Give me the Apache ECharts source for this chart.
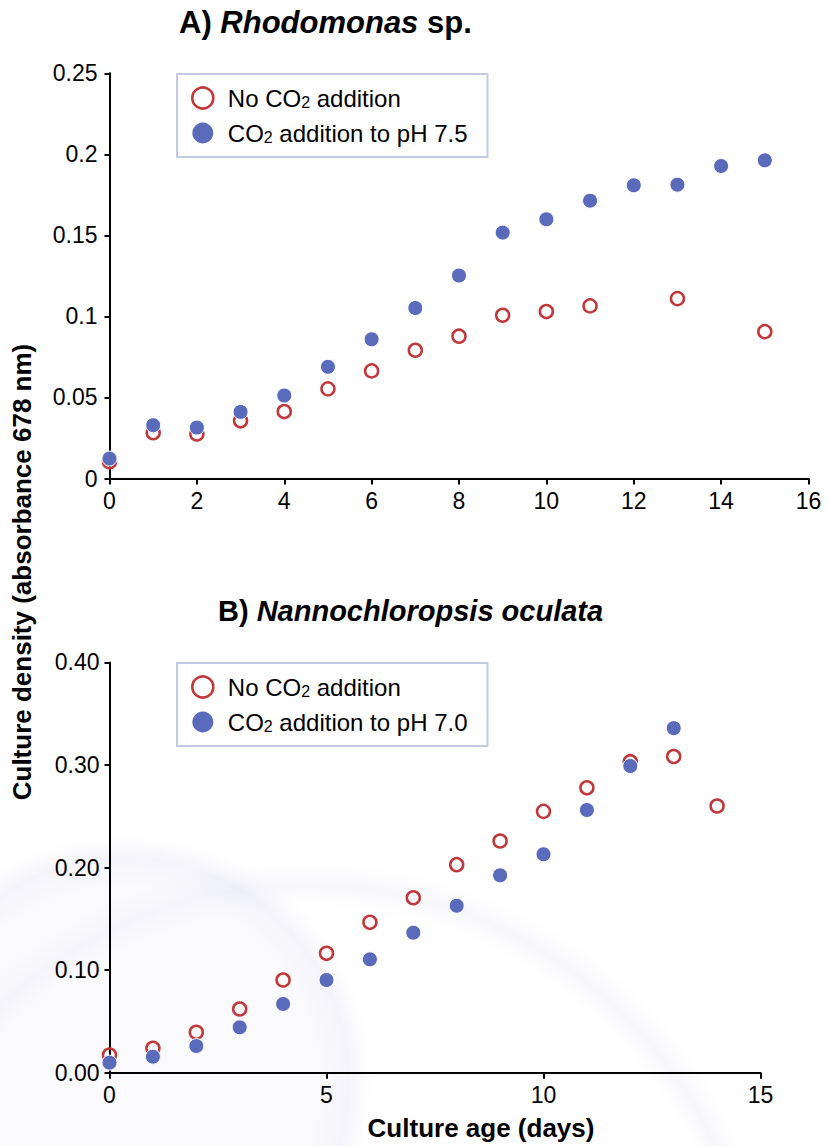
<!DOCTYPE html>
<html>
<head>
<meta charset="utf-8">
<script src="https://cdn.jsdelivr.net/npm/echarts@6/dist/echarts.min.js"></script>
<style>
html,body{margin:0;padding:0;background:#fff;}
#chart{width:827px;height:1146px;}
</style>
</head>
<body>
<div id="chart"></div>
<script>
// ---- Data ----
// Panel A: Rhodomonas sp.
const daysNoCO2A = [0, 1, 2, 3, 4, 5, 6, 7, 8, 9, 10, 11, 13, 15];
const noCO2A     = [0.0103, 0.0282, 0.0275, 0.0356, 0.0413, 0.0553, 0.0664, 0.0791, 0.0878, 0.1007, 0.1030, 0.1065, 0.1110, 0.0906];
const daysCO2A   = [0, 1, 2, 3, 4, 5, 6, 7, 8, 9, 10, 11, 12, 13, 14, 15];
const co2A       = [0.0123, 0.0329, 0.0314, 0.0411, 0.0512, 0.0689, 0.0859, 0.1052, 0.1252, 0.1517, 0.1599, 0.1714, 0.1809, 0.1813, 0.1928, 0.1963];

// Panel B: Nannochloropsis oculata
const daysNoCO2B = [0, 1, 2, 3, 4, 5, 6, 7, 8, 9, 10, 11, 12, 13, 14];
const noCO2B     = [0.0172, 0.0238, 0.0394, 0.0621, 0.0904, 0.1164, 0.1466, 0.1706, 0.2028, 0.2259, 0.2548, 0.2778, 0.3032, 0.3083, 0.2600];
const daysCO2B   = [0, 1, 2, 3, 4, 5, 6, 7, 8, 9, 10, 11, 12, 13];
const co2B       = [0.0098, 0.0156, 0.0260, 0.0442, 0.0670, 0.0904, 0.1105, 0.1365, 0.1628, 0.1924, 0.2129, 0.2561, 0.2990, 0.3359];

// Tick labels
const yTickLabelsA = ['0', '0.05', '0.1', '0.15', '0.2', '0.25'];
const yTickLabelsB = ['0.00', '0.10', '0.20', '0.30', '0.40'];

// Text
const titleA = ['A) ', 'Rhodomonas', ' sp.'];
const titleB = ['B) ', 'Nannochloropsis oculata', ''];
const seriesNames = {
  noA: 'A: No CO2 addition',
  co2A: 'A: CO2 addition to pH 7.5',
  noB: 'B: No CO2 addition',
  co2B: 'B: CO2 addition to pH 7.0'
};
const yAxisTitle = 'Culture density (absorbance 678 nm)';
const xAxisTitle = 'Culture age (days)';

// ---- Styles ----
const FONT = "'Liberation Sans', Arial, Helvetica, sans-serif";
const RED = '#c0383a';
const BLUE = '#5a6bbb';

function pairs(xs, ys) { return xs.map((x, i) => [x, ys[i]]); }

const chart = echarts.init(document.getElementById('chart'), null, {renderer: 'svg'});

function axisCommon() {
  return {
    axisLine: {show: true, onZero: false, lineStyle: {color: '#000', width: 2}},
    axisTick: {show: true, inside: false, length: 6, lineStyle: {color: '#000', width: 2}},
    splitLine: {show: false},
    axisLabel: {color: '#000', fontSize: 23, fontFamily: FONT, margin: 11}
  };
}

function legendCfg(top, names) {
  return {
    show: true,
    orient: 'vertical',
    left: 177,
    top: top,
    padding: [12, 20, 12, 14],
    itemWidth: 40,
    itemHeight: 21,
    itemGap: 11,
    borderColor: '#c3c9e2',
    borderWidth: 2,
    backgroundColor: '#ffffff',
    selectedMode: false,
    data: [
      {name: names[0], icon: 'circle', itemStyle: {color: 'rgba(255,255,255,0)', borderColor: RED, borderWidth: 2.6, opacity: 1}},
      {name: names[1], icon: 'circle', itemStyle: {color: BLUE, borderWidth: 0, opacity: 1}}
    ],
    formatter: function (name) {
      const t = name.replace(/^[AB]: /, '');
      return t.replace('CO2', 'CO{s|2}');
    },
    textStyle: {
      color: '#000', fontSize: 24, fontFamily: FONT, lineHeight: 24,
      rich: {s: {fontSize: 16, fontFamily: FONT, color: '#000', lineHeight: 8, verticalAlign: 'bottom'}}
    }
  };
}

function titleCfg(parts, left, top, size) {
  return {
    left: left, top: top, padding: 0,
    text: '{b|' + parts[0] + '}{i|' + parts[1] + '}' + (parts[2] ? '{b|' + parts[2] + '}' : ''),
    textStyle: {
      rich: {
        b: {fontSize: size, fontWeight: 'bold', fontFamily: FONT, color: '#000'},
        i: {fontSize: size, fontWeight: 'bold', fontStyle: 'italic', fontFamily: FONT, color: '#000'}
      }
    }
  };
}

const option = {
  backgroundColor: '#ffffff',
  animation: false,
  graphic: [
    {
      type: 'circle', z: -10, silent: true,
      shape: {cx: 125, cy: 1082, r: 262},
      style: {
        fill: {
          type: 'radial', x: 0.5, y: 0.5, r: 0.5,
          colorStops: [
            {offset: 0, color: 'rgba(226,226,242,0.16)'},
            {offset: 0.74, color: 'rgba(226,226,242,0.16)'},
            {offset: 0.855, color: 'rgba(210,210,234,0.26)'},
            {offset: 0.95, color: 'rgba(235,235,248,0)'},
            {offset: 1, color: 'rgba(235,235,248,0)'}
          ]
        }
      }
    },
    {
      type: 'circle', z: -11, silent: true,
      shape: {cx: 307, cy: 1336, r: 490},
      style: {
        fill: {
          type: 'radial', x: 0.5, y: 0.5, r: 0.5,
          colorStops: [
            {offset: 0, color: 'rgba(235,235,248,0)'},
            {offset: 0.87, color: 'rgba(235,235,248,0)'},
            {offset: 0.92, color: 'rgba(216,216,238,0.20)'},
            {offset: 0.975, color: 'rgba(235,235,248,0)'},
            {offset: 1, color: 'rgba(235,235,248,0)'}
          ]
        }
      }
    },
    {
      type: 'text', z: 10,
      x: 22, y: 572, rotation: Math.PI / 2,
      style: {
        text: yAxisTitle, fill: '#000',
        fontSize: 26, fontWeight: 'bold', fontFamily: FONT,
        align: 'center', verticalAlign: 'middle'
      }
    }
  ],
  title: [
    titleCfg(titleA, 179, 7, 31),
    titleCfg(titleB, 218, 596, 29)
  ],
  legend: [
    legendCfg(74, [seriesNames.noA, seriesNames.co2A]),
    legendCfg(663, [seriesNames.noB, seriesNames.co2B])
  ],
  grid: [
    {left: 109.5, top: 73.3, width: 699, height: 405.2, containLabel: false},
    {left: 109.5, top: 662.4, width: 651, height: 410.3, containLabel: false}
  ],
  xAxis: [
    Object.assign(axisCommon(), {
      type: 'value', gridIndex: 0, min: 0, max: 16, interval: 2
    }),
    Object.assign(axisCommon(), {
      type: 'value', gridIndex: 1, min: 0, max: 15, interval: 5,
      name: xAxisTitle, nameLocation: 'middle', nameGap: 42,
      nameTextStyle: {fontSize: 26, fontWeight: 'bold', fontFamily: FONT, color: '#000', padding: [0, 0, 0, 92]}
    })
  ],
  yAxis: [
    (function () {
      const a = Object.assign(axisCommon(), {
        type: 'value', gridIndex: 0, min: 0, max: 0.25, interval: 0.05
      });
      a.axisTick.length = 5;
      a.axisLabel.margin = 12;
      a.axisLabel.formatter = function (v) { return yTickLabelsA[Math.round(v / 0.05)]; };
      return a;
    })(),
    (function () {
      const a = Object.assign(axisCommon(), {
        type: 'value', gridIndex: 1, min: 0, max: 0.4, interval: 0.1
      });
      a.axisTick.length = 5;
      a.axisLabel.margin = 10;
      a.axisLabel.formatter = function (v) { return yTickLabelsB[Math.round(v / 0.1)]; };
      return a;
    })()
  ],
  series: [
    {
      name: seriesNames.noA, type: 'scatter', xAxisIndex: 0, yAxisIndex: 0,
      data: pairs(daysNoCO2A, noCO2A), symbol: 'circle', symbolSize: 13, z: 3,
      itemStyle: {color: 'rgba(255,255,255,0)', borderColor: RED, borderWidth: 2.5, opacity: 1},
      emphasis: {disabled: true}
    },
    {
      name: seriesNames.co2A, type: 'scatter', xAxisIndex: 0, yAxisIndex: 0,
      data: pairs(daysCO2A, co2A), symbol: 'circle', symbolSize: 15, z: 4,
      itemStyle: {color: BLUE, borderColor: '#fff', borderWidth: 1, opacity: 1},
      emphasis: {disabled: true}
    },
    {
      name: seriesNames.noB, type: 'scatter', xAxisIndex: 1, yAxisIndex: 1,
      data: pairs(daysNoCO2B, noCO2B), symbol: 'circle', symbolSize: 13, z: 3,
      itemStyle: {color: 'rgba(255,255,255,0)', borderColor: RED, borderWidth: 2.5, opacity: 1},
      emphasis: {disabled: true}
    },
    {
      name: seriesNames.co2B, type: 'scatter', xAxisIndex: 1, yAxisIndex: 1,
      data: pairs(daysCO2B, co2B), symbol: 'circle', symbolSize: 15, z: 4,
      itemStyle: {color: BLUE, borderColor: '#fff', borderWidth: 1, opacity: 1},
      emphasis: {disabled: true}
    }
  ]
};

chart.setOption(option);
</script>
</body>
</html>
